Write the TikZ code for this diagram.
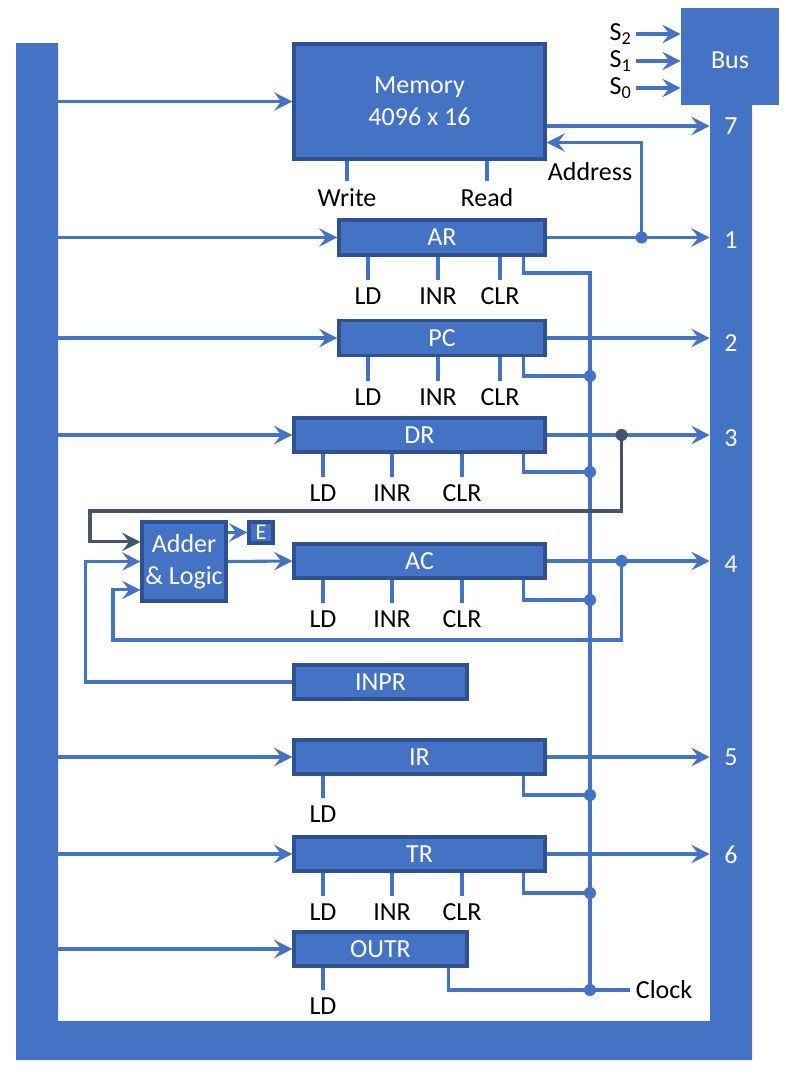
\documentclass[tikz,border=0pt]{standalone}
\usepackage{fontspec}
\setmainfont{Carlito}
\usetikzlibrary{arrows.meta,calc}
\definecolor{busblue}{HTML}{4472C4}
\definecolor{edgeblue}{HTML}{2F528F}
\definecolor{slategray}{HTML}{44546A}

\begin{document}
\begin{tikzpicture}[x=0.025cm, y=-0.025cm,
  every node/.style={font=\fontsize{18.5}{23}\selectfont},
  reg/.style={rectangle, draw=edgeblue, fill=busblue, text=white, line width=2.2pt,
              inner sep=0pt, minimum width=6.275cm, minimum height=0.85cm},
  lbl/.style={anchor=north, inner xsep=2pt, inner ysep=5pt},
  busnum/.style={text=white, minimum width=1.05cm, inner sep=0pt},
  wire/.style={busblue, line width=2.2pt},
  fb/.style={slategray, line width=2.2pt},
  >={Stealth[length=13pt, width=13pt, inset=5pt]}
]
\useasboundingbox (0,0) rectangle (785,1079);

% common bus
\fill[busblue] (16,43) -- (58,43) -- (58,1021) -- (710,1021) -- (710,100)
  -- (752,100) -- (752,1060) -- (16,1060) -- cycle;
\node[fill=busblue, text=white, inner sep=0pt, text height=17pt, text depth=0pt,
      minimum width=2.45cm, minimum height=2.425cm] (bus) at (730,56.5) {Bus};
\foreach \n/\y in {7/126,1/240,2/343,3/438,4/564,5/757,6/855}
  \node[busnum] (b\n) at (731,\y) {\n};
\coordinate (lbus) at (58,0);

% registers
\node[reg, minimum height=2.875cm, align=center] (mem) at (419.5,101.5) {Memory\\4096 x 16};
\node[reg, minimum width=5.15cm, minimum height=0.875cm] (ar) at (442,237.5) {AR};
\node[reg, minimum width=5.15cm, minimum height=0.875cm] (pc) at (442,338) {PC};
\node[reg] (dr) at (419.5,435) {DR};
\node[reg, minimum width=2.1cm, minimum height=1.975cm, align=center] (adder) at (184,561.5) {Adder\\\& Logic};
\node[reg, minimum width=0.6cm, minimum height=0.525cm, font=\fontsize{16}{18}\selectfont] (e) at (261,532.5) {E};
\node[reg] (ac) at (419.5,561) {AC};
\node[reg, minimum width=4.325cm] (inpr) at (380.5,682) {INPR};
\node[reg] (ir) at (419.5,757) {IR};
\node[reg] (tr) at (419.5,854) {TR};
\node[reg, minimum width=4.325cm] (outr) at (380.5,949) {OUTR};

% select lines
\foreach \i/\y in {2/34,1/61,0/88} {
  \node[anchor=east, inner sep=3pt] (s\i) at (636,\y) {S\textsubscript{\i}};
  \draw[wire,->] (s\i.east) -- (bus.west |- s\i.east);
}

% bus in and out
\foreach \r in {mem,ar,pc,dr,ir,tr,outr}
  \draw[wire,->] (lbus |- \r.west) -- (\r.west);
\draw[wire,->] (mem.east |- b7) -- (b7.west);
\foreach \r/\n in {ar/1,pc/2,dr/3,ac/4,ir/5,tr/6}
  \draw[wire,->] (\r.east) -- (b\n.west |- \r.east);

% memory control and address
\node[lbl] (wr) at (347,181) {Write};
\node[lbl] (rd) at (487,181) {Read};
\draw[wire] (mem.south -| wr) -- (wr.north);
\draw[wire] (mem.south -| rd) -- (rd.north);
\coordinate (adot) at ($(ar.east)+(95,0)$);
\coordinate (addr) at ($(mem.south east)+(0,-18)$);
\draw[wire,->] (adot) |- (addr);
\node (addrlbl) at (590,172) {Address};

% control inputs
\foreach \r/\xa/\xb/\xc/\y in {ar/368/438/500/280, pc/368/438/500/381,
    dr/323/392/462/477, ac/323/392/462/603, tr/323/392/462/896} {
  \node[lbl] (ld\r) at (\xa,\y) {LD};
  \node[lbl] (inr\r) at (\xb,\y) {INR};
  \node[lbl] (clr\r) at (\xc,\y) {CLR};
  \foreach \c in {ld,inr,clr}
    \draw[wire] (\r.south -| \c\r) -- (\c\r.north);
}
\node[lbl] (ldir) at (323,798) {LD};
\node[lbl] (ldoutr) at (323,990) {LD};
\draw[wire] (ir.south -| ldir) -- (ldir.north);
\draw[wire] (outr.south -| ldoutr) -- (ldoutr.north);

% clock
\coordinate (cktop) at (590,273);
\coordinate (ckbot) at (590,990);
\node[anchor=west, inner sep=4pt] (clock) at (630,990) {Clock};
\draw[wire] ([xshift=-0.575cm]ar.south east) |- (cktop) -- (ckbot) -- (clock.west);
\foreach \r/\y in {pc/376,dr/472,ac/600,ir/795,tr/893} {
  \coordinate (ck\r) at (590,\y);
  \draw[wire] ([xshift=-0.575cm]\r.south east) |- (ck\r);
}
\draw[wire] ([xshift=-0.5cm]outr.south east) |- (ckbot);

% adder and logic paths
\coordinate (drdot) at ($(dr.east)+(75,0)$);
\coordinate (acdot) at ($(ac.east)+(75,0)$);
\draw[fb,->] (drdot) |- (90,511) |- ([yshift=0.49cm]adder.west);
\draw[wire,->] (acdot) |- (113,640) |- ([yshift=-0.71cm]adder.west);
\draw[wire,->] (inpr.west) -| ([xshift=-1.375cm]adder.west) -- (adder.west);
\draw[wire,->] (adder.east) -- (ac.west);
\draw[wire,->] (adder.east |- e.west) -- (e.west);

% junctions
\foreach \p in {adot,acdot,ckpc,ckdr,ckac,ckir,cktr,ckbot}
  \fill[busblue] (\p) circle (4.3pt);
\fill[slategray] (drdot) circle (4.3pt);
\end{tikzpicture}
\end{document}
